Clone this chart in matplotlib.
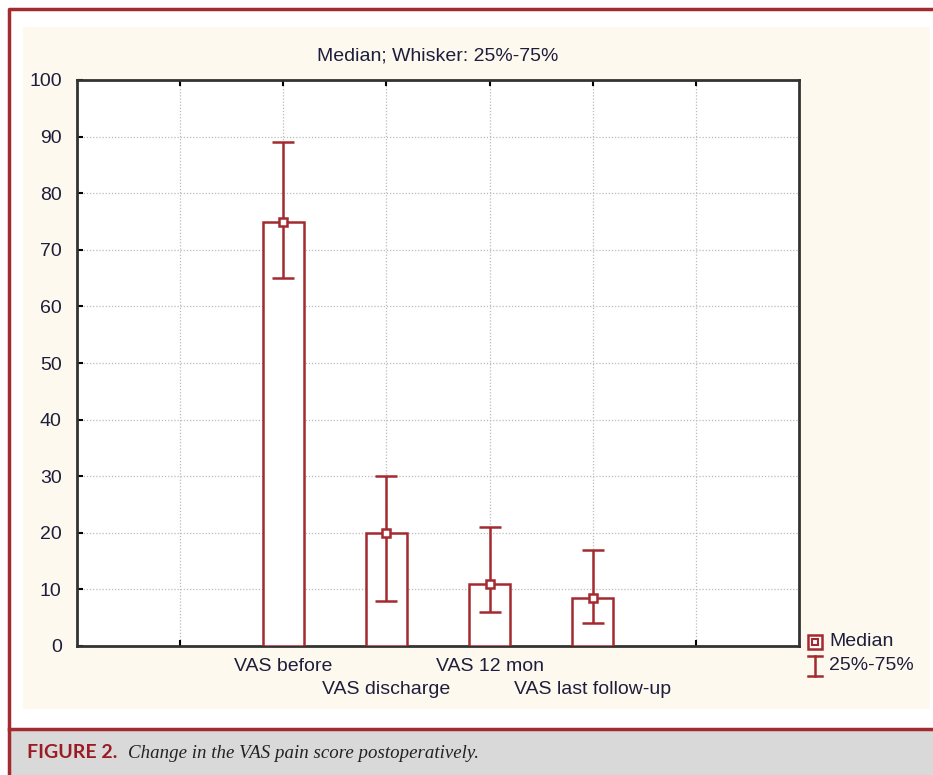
# VAS pain score chart: median bars with 25%-75% whiskers

import matplotlib.pyplot as plt
from matplotlib.patches import Rectangle
from matplotlib.lines import Line2D

# data
categories = ["VAS before", "VAS discharge", "VAS 12 mon", "VAS last follow-up"]
medians = [75, 20, 11, 8.5]
q25 = [65, 8, 6, 4]
q75 = [89, 30, 21, 17]
y_ticks = [0, 10, 20, 30, 40, 50, 60, 70, 80, 90, 100]

red = "#A32A2F"
ink = "#1E1E3C"
plt.rcParams["font.family"] = ["Liberation Sans", "DejaVu Sans"]

W, H = 933, 775
fig = plt.figure(figsize=(W / 100, H / 100), dpi=100)
fig.patch.set_facecolor("white")


def px(x0, y0, w, h, **kw):
    # rectangle in pixel coords (y from top)
    return Rectangle((x0 / W, 1 - (y0 + h) / H), w / W, h / H,
                     transform=fig.transFigure, **kw)


# frame, beige panel and caption bar
fig.add_artist(px(23, 27, 907, 682, facecolor="#FEF9EE", edgecolor="none", zorder=0))
fig.add_artist(px(9, 729, 930, 50, facecolor="#D9D9D9", edgecolor="none", zorder=0))
fig.add_artist(Line2D([9 / W, 1.01], [1 - 729 / H] * 2, transform=fig.transFigure,
                      color=red, lw=2.5))
fig.add_artist(Line2D([9 / W, 9 / W, 1.01], [0, 1 - 9 / H, 1 - 9 / H],
                      transform=fig.transFigure, color=red, lw=2.5))

ax = fig.add_axes([77 / W, 1 - 646 / H, 722 / W, 566 / H])
ax.set_facecolor("white")

xs = [2, 3, 4, 5]
ax.bar(xs, medians, width=0.4, facecolor="white", edgecolor=red, linewidth=1.8, zorder=3)
lower = [m - a for m, a in zip(medians, q25)]
upper = [b - m for m, b in zip(medians, q75)]
ax.errorbar(xs, medians, yerr=[lower, upper], fmt="s", color=red, ecolor=red,
            elinewidth=1.8, capsize=8, capthick=1.8, markersize=6,
            markerfacecolor="white", markeredgecolor=red, markeredgewidth=1.8, zorder=4)

ax.set_xlim(0, 7)
ax.set_ylim(0, 100)
ax.set_yticks(y_ticks)
ax.set_xticks([1, 2, 3, 4, 5, 6])
ax.set_xticklabels([])
ax.tick_params(axis="both", direction="in", length=4, width=1.5, labelsize=14,
               labelcolor=ink, top=True)
ax.tick_params(axis="y", pad=11)

# staggered category labels below the axis
xt = ax.get_xaxis_transform()
for i, (x, name) in enumerate(zip(xs, categories)):
    yy = -12 / 566 if i % 2 == 0 else -35 / 566
    ax.text(x, yy, name, transform=xt, ha="center", va="top", fontsize=14, color=ink)

ax.grid(True, color="#BBBBBB", linestyle=(0, (1, 1.5)), linewidth=0.9, zorder=0)
ax.set_axisbelow(True)
for s in ax.spines.values():
    s.set_linewidth(2)
    s.set_color("#333333")

ax.set_title("Median; Whisker: 25%-75%", fontsize=14, color=ink, pad=14)

# legend drawn by hand
lx = 815 / W
fig.add_artist(Line2D([lx], [1 - 642 / H], marker="s", markersize=10, markerfacecolor="white",
                      markeredgecolor=red, markeredgewidth=1.8, transform=fig.transFigure))
fig.add_artist(Line2D([lx], [1 - 642 / H], marker="s", markersize=4, markerfacecolor="white",
                      markeredgecolor=red, markeredgewidth=1.5, transform=fig.transFigure))
fig.add_artist(Line2D([lx, lx], [1 - 656 / H, 1 - 676 / H], color=red, lw=1.8,
                      transform=fig.transFigure))
for yy in (656, 676):
    fig.add_artist(Line2D([lx - 7 / W, lx + 7 / W], [1 - yy / H] * 2, color=red, lw=1.8,
                          transform=fig.transFigure))
fig.text(829 / W, 1 - 642 / H, "Median", fontsize=14, color=ink, va="center")
fig.text(829 / W, 1 - 665 / H, "25%-75%", fontsize=14, color=ink, va="center")

# caption
fig.text(27 / W, 1 - 753 / H, "FIGURE 2.", fontsize=14, fontweight="bold", color="#9B1B24",
         family=["Lato", "DejaVu Sans"], va="center")
fig.text(128 / W, 1 - 753 / H, "Change in the VAS pain score postoperatively.", fontsize=13.6,
         style="italic", color="#222222", family=["Liberation Serif", "DejaVu Serif"],
         va="center")

fig.savefig("out.png", dpi=100)
